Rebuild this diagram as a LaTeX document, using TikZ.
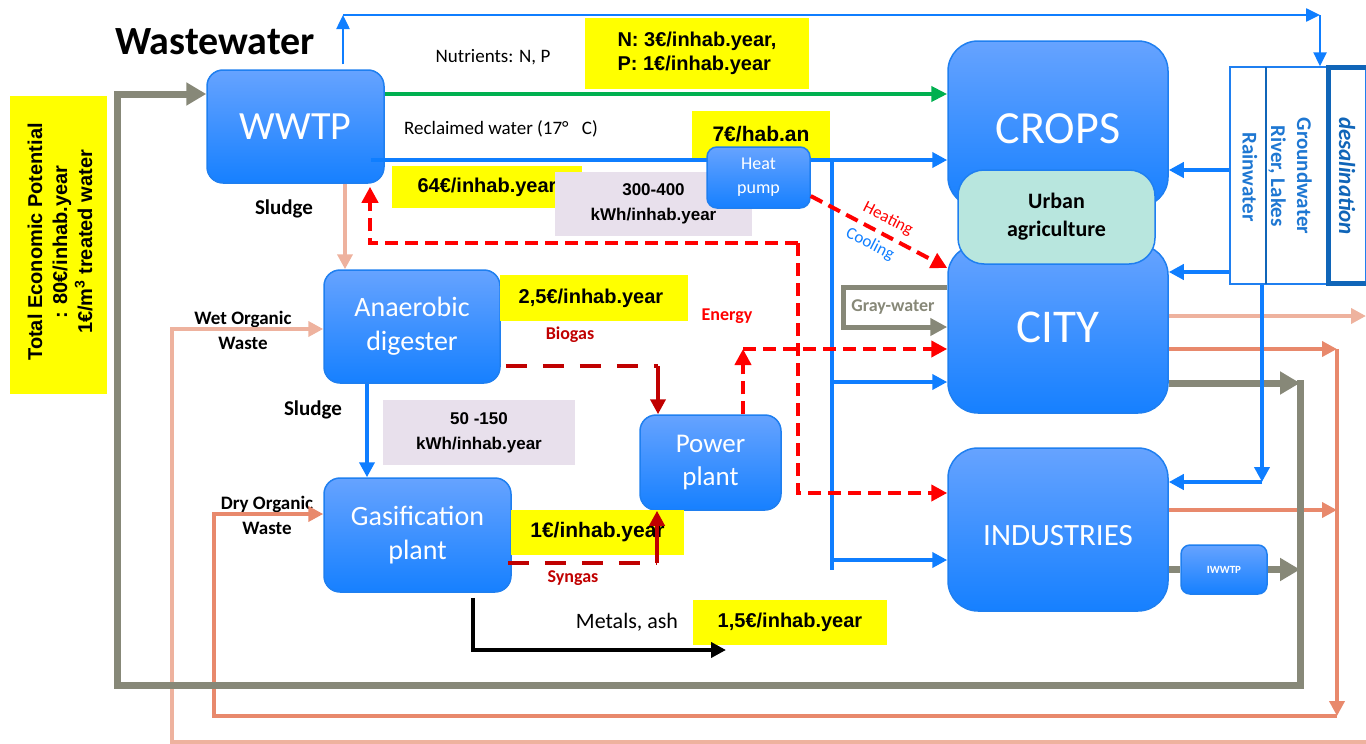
\documentclass[tikz,border=0pt]{standalone}
\usepackage{fontspec}
\setmainfont{Carlito}
\newfontfamily\arialf{Liberation Sans}
\usetikzlibrary{arrows.meta,calc}
\newcommand\fsz[2]{\fontsize{#1}{#2}\selectfont}
\definecolor{bxtop}{HTML}{66A3FF}
\definecolor{bxbot}{HTML}{1680FF}
\definecolor{bxline}{HTML}{1F7FF0}
\definecolor{fblue}{HTML}{0F7EFF}
\definecolor{fgreen}{HTML}{00B050}
\definecolor{fred}{HTML}{FF0000}
\definecolor{dred}{HTML}{C00000}
\definecolor{salL}{HTML}{EEB29E}
\definecolor{salD}{HTML}{E8896C}
\definecolor{fgray}{HTML}{878878}
\definecolor{yel}{HTML}{FFFF00}
\definecolor{lav}{HTML}{E8E0EC}
\definecolor{uagr}{HTML}{B8E6DE}
\definecolor{srcblue}{HTML}{1E77D2}
\definecolor{desblue}{HTML}{1065B8}
\begin{document}
\begin{tikzpicture}[x=1pt,y=-1pt,
  bbox/.style={rectangle, rounded corners=16pt, top color=bxtop, bottom color=bxbot, draw=bxline, line width=1.5pt, text=white, align=center, inner sep=0pt},
  bigbox/.style={bbox, rounded corners=30pt, minimum width=220pt},
  ybox/.style={fill=yel, inner sep=0pt, align=center, font=\arialf\bfseries\fsz{20}{24}},
  lbox/.style={fill=lav, inner sep=0pt, align=center, font=\arialf\bfseries\fsz{17}{25}},
  lbl/.style={inner sep=0pt, align=center},
  tipA/.style={-{Triangle[length=15pt,width=15pt]}},
  bflow/.style={line width=4pt, draw=fblue},
  bthin/.style={line width=2.5pt, draw=fblue, -{Triangle[length=14pt,width=13pt]}},
  rdash/.style={line width=4pt, draw=fred, dash pattern=on 13pt off 7pt, -{Triangle[length=16pt,width=16pt]}},
  ddash/.style={line width=4.5pt, draw=dred, dash pattern=on 21pt off 16pt},
  sflow/.style={line width=4pt},
  gflow/.style={line width=7pt, draw=fgray},
  gtip/.style={-{Triangle[length=20pt,width=22pt]}}
]
\useasboundingbox (0,0) rectangle (1366,744);

% ---------- main boxes ----------
\node[bbox, minimum width=177pt, minimum height=113pt, font=\fsz{40}{48}] (wwtp) at (295.5,126.5) {WWTP};
\node[bbox, minimum width=176pt, minimum height=113pt, font=\fsz{28}{34}] (anaer) at (412,326.5) {Anaerobic\\digester};
\node[bbox, minimum width=187pt, minimum height=114pt, font=\fsz{28}{34}] (gasif) at (417.5,535) {Gasification\\plant};
\node[bbox, minimum width=141pt, minimum height=95pt, font=\fsz{27}{33}] (power) at (710.5,462.5) {Power\\plant};
\node[bigbox, minimum height=166pt] (crops) at (1058,124) {};
\node[text=white, font=\fsz{46}{50}, inner sep=0pt] (cropst) at (1058,129) {CROPS};
\node[bigbox, minimum height=168pt] (city) at (1058,329) {};
\node[text=white, font=\fsz{47}{50}, inner sep=0pt] (cityt) at (1058,327) {CITY};
\node[bigbox, minimum height=163pt] (ind) at (1058,529.5) {};
\node[text=white, font=\fsz{31}{36}, inner sep=0pt] (indt) at (1058,536) {INDUSTRIES};
\node[bbox, rounded corners=9pt, minimum width=86pt, minimum height=49pt, font=\bfseries\fsz{11}{13}] (iwwtp) at (1224,569.5) {IWWTP};

% ---------- right water sources ----------
\node[rectangle, draw=bxline, line width=1.5pt, minimum width=136pt, minimum height=217pt, inner sep=0pt] (src) at (1298,175.5) {};
\coordinate (divT) at (1266,67);
\coordinate (divB) at (1266,284);
\draw[line width=1.2pt, draw=desblue] (divT) -- (divB);
\node[rectangle, draw=desblue, line width=5pt, minimum width=50pt, minimum height=216pt, inner sep=0pt] (desal) at (1353,175.5) {};
\node[lbl, rotate=-90, text=srcblue, font=\bfseries\fsz{21}{26}] (rain) at (1250,177) {Rainwater};
\node[lbl, rotate=-90, text=srcblue, font=\bfseries\fsz{21}{26}] (ground) at (1290,176) {Groundwater\\River, Lakes};
\node[lbl, rotate=-90, text=desblue, font=\bfseries\itshape\fsz{23}{28}] (desalt) at (1347,176) {desalination};

% ---------- yellow and lavender boxes ----------
\node[ybox, minimum width=97pt, minimum height=298pt] (ytot) at (58.5,245) {};
\node[lbl, rotate=90, font=\arialf\bfseries\fsz{20}{25}] (ytott) at (60,242) {Total Economic Potential\\: 80€/inhab.year\\1€/m\textsuperscript{3} treated water};
\node[ybox, minimum width=224pt, minimum height=71pt, align=left] (ynp) at (697,53.5) {N: 3€/inhab.year,\\P: 1€/inhab.year};
\node[ybox, minimum width=138pt, minimum height=47pt, font=\arialf\bfseries\fsz{21}{24}] (y7) at (761,134.5) {7€/hab.an};
\node[ybox, minimum width=190pt, minimum height=42pt] (y64) at (487,187) {64€/inhab.year};
\node[ybox, minimum width=188pt, minimum height=46pt] (y25) at (594,298) {\hspace{-6pt}2,5€/inhab.year};
\node[ybox, minimum width=173pt, minimum height=45pt, font=\arialf\bfseries\fsz{21}{24}] (y1) at (597.5,532.5) {1€/inhab.year};
\node[ybox, minimum width=194pt, minimum height=45pt] (y15) at (790,622.5) {1,5€/inhab.year};
\node[lbox, minimum width=197pt, minimum height=64pt] (l300) at (653.5,204) {300-400\\kWh/inhab.year};
\node[lbox, minimum width=192pt, minimum height=65pt] (l50) at (479,432.5) {50 -150\\kWh/inhab.year};

% ---------- labels ----------
\node[lbl, font=\bfseries\fsz{40}{44}] (title) at (215,42) {Wastewater};
\node[lbl, font=\fsz{19}{22}] (nutr) at (493,57) {Nutrients: N, P};
\node[lbl, font=\fsz{19}{22}] (recl) at (501,129) {Reclaimed water (17°\hspace{0.7em}C)};
\node[lbl, font=\bfseries\fsz{21}{24}] (sl1) at (284,209) {Sludge};
\node[lbl, font=\bfseries\fsz{21}{24}] (sl2) at (313,410) {Sludge};
\node[lbl, font=\bfseries\fsz{19}{25}] (wet) at (243,330) {Wet Organic\\Waste};
\node[lbl, font=\bfseries\fsz{19}{25}] (dry) at (267,515) {Dry Organic\\Waste};
\node[lbl, text=dred, font=\bfseries\fsz{18}{22}] (biog) at (570,335) {Biogas};
\node[lbl, text=fred, font=\bfseries\fsz{18}{22}] (energ) at (727,316) {Energy};
\node[lbl, text=dred, font=\bfseries\fsz{18}{22}] (syng) at (573,578) {Syngas};
\node[lbl, font=\fsz{22}{26}] (metal) at (627,622) {Metals, ash};
\node[lbl, text=fgray, font=\bfseries\fsz{18}{22}] (grayw) at (893,307) {Gray-water};

% ---------- coordinates ----------
\coordinate (topL) at (343,15);
\coordinate (topR) at (1320,15);
\coordinate (vtop) at (832,160);
\coordinate (vbot) at (832,570);
\coordinate (redc) at (798,243);
\coordinate (bioc) at (658,366);
\coordinate (sync) at (657,563);
\coordinate (enc) at (743,349);
\coordinate (blk) at (473,650);
\coordinate (wetR) at (1366,742);
\coordinate (dryV) at (1337,716);
\coordinate (grayV) at (1300,685);
\coordinate (gwc) at (843,287);
\coordinate (srcV) at (1262,482);

% ---------- connectors ----------
\draw[bthin] ([yshift=5pt]wwtp.north -| topL) -- (topL);
\draw[bthin] (topL) -- (topR);
\draw[bthin] (topR) -- (src.north -| topR);
\draw[line width=4pt, draw=fgreen, -{Triangle[length=16pt,width=15pt]}] (wwtp.east |- 0,94) -- (crops.west |- 0,94);
\draw[bflow, tipA] ([xshift=-14pt]wwtp.east |- vtop) -- (crops.west |- vtop);
\draw[bflow] (vtop) -- (vbot);
\draw[bflow, tipA] (vtop |- 0,382) -- (city.west |- 0,382);
\draw[bflow, tipA] (vtop |- 0,560) -- (ind.west |- 0,560);
\draw[rdash] (redc) -- (redc -| 370,0) -- ([yshift=-3pt]wwtp.south -| 370,0);
\draw[rdash] (redc) -- (redc |- 0,493) -- (ind.west |- 0,493);
\draw[sflow, draw=salL, tipA] (wwtp.south -| 345,0) -- (anaer.north -| 345,0);
\draw[bflow, tipA] (anaer.south -| 367,0) -- (gasif.north -| 367,0);
\draw[ddash] ([xshift=5pt]anaer.east |- bioc) -- (bioc);
\draw[line width=4.5pt, draw=dred, -{Triangle[length=15pt,width=15pt]}] (bioc) -- (power.north -| bioc);
\draw[ddash] ([xshift=-4pt]gasif.east |- sync) -- (sync);
\draw[line width=4.5pt, draw=dred, -{Triangle[length=15pt,width=15pt]}] (sync) -- (power.south -| sync);
\draw[rdash] (power.north -| enc) -- (enc);
\draw[rdash] (enc) -- (city.west |- enc);
\draw[line width=4pt, -{Triangle[length=15pt,width=15pt]}] ([yshift=-5pt]gasif.south -| blk) -- (blk) -- (726,650);
\draw[sflow, draw=salL, tipA] (wetR) -- (wetR -| 172,0) -- (172,329) -- (anaer.west |- 0,329);
\draw[sflow, draw=salL, tipA] (city.east |- 0,316) -- (1366,316);
\draw[sflow, draw=salD, tipA] (city.east |- 0,349) -- (dryV |- 0,349);
\draw[sflow, draw=salD, tipA] (ind.east |- 0,510) -- (dryV |- 0,510);
\draw[sflow, draw=salD, tipA] (dryV |- 0,349) -- (dryV);
\draw[sflow, draw=salD, tipA] (dryV) -- (dryV -| 214,0) -- (214,514) -- (gasif.west |- 0,514);
\draw[gflow, gtip] (city.east |- 0,383) -- (grayV |- 0,383);
\draw[gflow] (ind.east |- iwwtp.west) -- (iwwtp.west);
\draw[gflow, gtip] (iwwtp.east) -- (grayV |- iwwtp.east);
\draw[gflow, gtip] (grayV |- 0,380) -- (grayV) -- (117,685) -- (117,94) -- (wwtp.west |- 0,94);
\draw[line width=5pt, draw=fgray, -{Triangle[length=17pt,width=17pt]}] (city.west |- gwc) -- (gwc) -- (843,327) -- (city.west |- 0,327);
\draw[bflow, tipA] (src.west |- 0,170) -- (crops.east |- 0,170);
\draw[bflow, tipA] (src.west |- 0,272) -- (city.east |- 0,272);
\draw[bflow, tipA] (src.south -| srcV) -- (srcV);
\draw[bflow, tipA] (srcV) -- (ind.east |- srcV);

% ---------- overlays ----------
\node[bbox, rounded corners=10pt, minimum width=103pt, minimum height=61pt, font=\fsz{18}{24}] (hp) at (758.5,177.5) {Heat\\pump};
\node[rectangle, rounded corners=26pt, fill=uagr, draw=bxline, line width=1.5pt, minimum width=197pt, minimum height=94pt, align=center, inner sep=0pt, font=\bfseries\fsz{22}{28}] (uagri) at (1056.5,217) {Urban\\agriculture};
\draw[rdash] (hp.east |- 0,196) -- (city.west |- 0,268);
\node[lbl, rotate=-27, text=fred, font=\fsz{17}{20}] (heat) at (888,219) {Heating};
\node[lbl, rotate=-27, text=fblue, font=\fsz{17}{20}] (cool) at (870,244) {Cooling};
\end{tikzpicture}
\end{document}
